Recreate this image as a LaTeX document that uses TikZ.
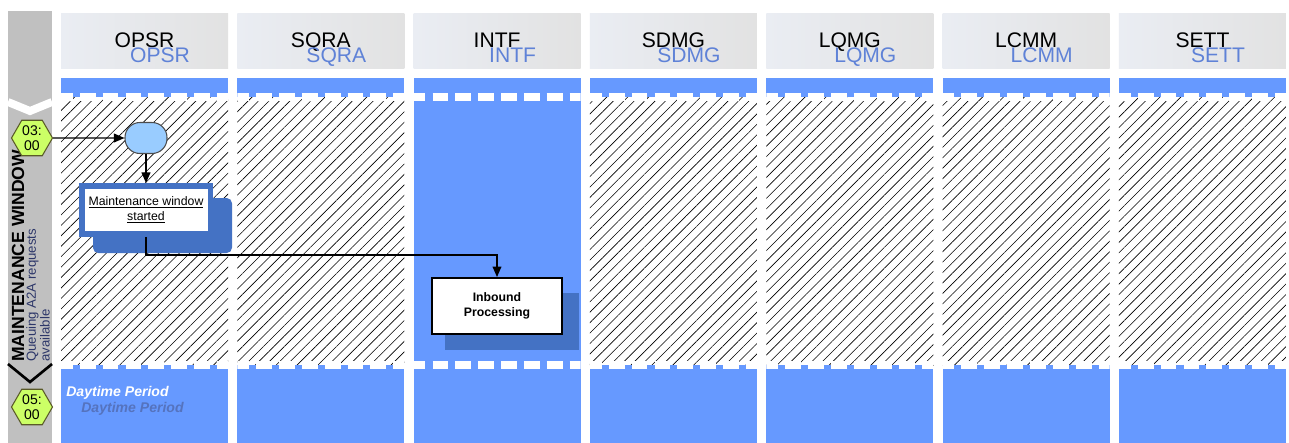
\documentclass[tikz,border=0pt]{standalone}
\usepackage{fontspec}
\setmainfont{Liberation Sans}
\usetikzlibrary{patterns.meta,shapes.geometric,arrows.meta}
\definecolor{band}{RGB}{102,153,255}
\definecolor{shad}{RGB}{68,114,196}
\definecolor{ell}{RGB}{153,204,255}
\definecolor{hexg}{RGB}{204,255,102}
\definecolor{hexb}{RGB}{90,90,40}
\definecolor{colgray}{RGB}{192,192,192}
\definecolor{hdrL}{RGB}{234,237,243}
\definecolor{hdrR}{RGB}{226,226,226}
\definecolor{lblue}{RGB}{95,130,215}
\definecolor{navy}{RGB}{45,55,105}
\definecolor{dshad}{RGB}{85,115,190}
\begin{document}
\begin{tikzpicture}[x=0.02cm,y=-0.02cm,
  hdr/.style={font=\fontsize{12}{14}\selectfont, inner sep=0, anchor=base},
  hdrb/.style={hdr, text=lblue},
  hatch/.style={pattern={Lines[angle=45,distance=4.2pt,line width=0.35pt]}, pattern color=black},
  wdash/.style={white, line width=4.2pt, dash pattern=on 9pt off 4pt},
  arr/.style={-{Triangle[length=6pt,width=5pt]}, line width=0.8pt},
  hexa/.style={regular polygon, regular polygon sides=6, minimum size=0.82cm, inner sep=0,
    fill=hexg, draw=hexb, line width=0.6pt, align=center, font=\fontsize{8}{8.5}\selectfont},
  evt/.style={rectangle, rounded corners=8.5pt, minimum width=0.84cm, minimum height=0.62cm,
    fill=ell, draw=black!70, line width=0.6pt},
  selbox/.style={rectangle, fill=white, draw=shad, line width=3.4pt, minimum width=2.58cm,
    minimum height=0.96cm, inner sep=0, align=center, font=\fontsize{7}{8.5}\selectfont},
  taskbox/.style={rectangle, fill=white, draw=black, line width=1.1pt, minimum width=2.6cm,
    minimum height=1.12cm, inner sep=0, align=center, font=\fontsize{7}{8.5}\selectfont\bfseries},
]
\useasboundingbox (0,0) rectangle (1289,443);
\fill[white] (0,0) rectangle (1289,443);

% lanes
\foreach \i/\lab in {0/OPSR,1/SQRA,2/INTF,3/SDMG,4/LQMG,5/LCMM,6/SETT}{
  \pgfmathsetmacro{\xa}{61+176.33*\i}
  \pgfmathsetmacro{\xb}{\xa+167}
  \pgfmathsetmacro{\xc}{\xa+83.5}
  \pgfmathsetmacro{\xd}{\xa+99}
  \shade[left color=hdrL, right color=hdrR] (\xa,13) rectangle (\xb,68);
  \node[hdr] (h\i) at (\xc,47) {\lab};
  \node[hdrb] (hb\i) at (\xd,62) {\lab};
  \ifnum\i=2
    \fill[band] (\xa,78) rectangle (\xb,443);
  \else
    \fill[band] (\xa,78) rectangle (\xb,97);
    \fill[hatch] (\xa,97) rectangle (\xb,365);
    \fill[band] (\xa,365) rectangle (\xb,443);
  \fi
  \begin{scope}
    \clip (\xa,0) rectangle (\xb,443);
    \draw[wdash] (\xa-4,97) -- (\xb,97);
    \draw[wdash] (\xa-4,365) -- (\xb,365);
  \end{scope}
}

% left column
\fill[colgray] (8,11) rectangle (52,443);
\draw[white, line width=4.5pt] (8,102) -- (30,111) -- (52,102);
\draw[black, line width=1.5pt] (8,364) -- (30,382) -- (52,364);
\node[rotate=90, anchor=west, inner sep=0, font=\fontsize{10}{11}\selectfont\bfseries] (mwt) at (18,362) {MAINTENANCE WINDOW};
\node[rotate=90, anchor=west, inner sep=0, align=left, text=navy, font=\fontsize{7.5}{7.8}\selectfont] (qt) at (38,362) {Queuing A2A requests\\available};
\node[hexa] (t1) at (32,138) {03:\\00};
\node[hexa] (t2) at (32,407) {05:\\00};

% Daytime period
\node[anchor=west, inner sep=0, text=dshad, font=\fontsize{8}{9}\selectfont\bfseries\itshape] (dp2) at (81,409) {Daytime Period};
\node[anchor=west, inner sep=0, text=white, font=\fontsize{8}{9}\selectfont\bfseries\itshape] (dp1) at (66,393) {Daytime Period};

% shadows
\fill[shad, rounded corners=3pt] (93,198) rectangle (232,253);
\fill[shad] (445,293) rectangle (579,350);

% nodes
\node[evt] (e) at (146,138) {};
\node[selbox] (mw) at (146,210) {\underline{Maintenance window}\\\underline{started}};
\node[taskbox] (ib) at (497,306) {Inbound\\Processing};
\coordinate (elbow) at (497,255);

% connectors
\draw[arr] (t1.east) -- (e.west);
\draw[arr] (e.south) -- (mw.north);
\draw[arr] (mw.south) |- (elbow) -- (ib.north);
\end{tikzpicture}
\end{document}
